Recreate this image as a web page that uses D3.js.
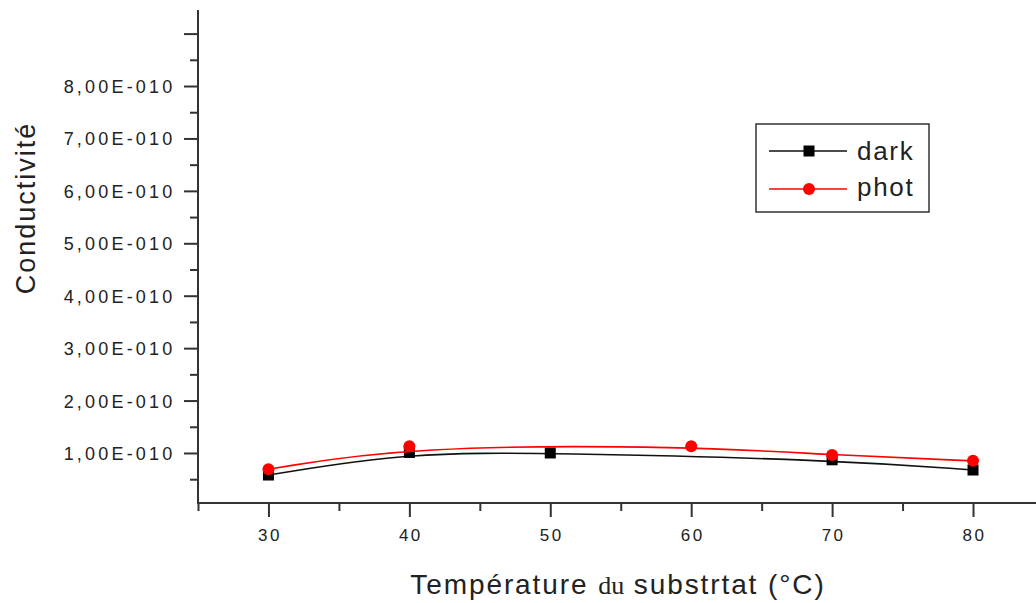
<!DOCTYPE html>
<html>
<head>
<meta charset="utf-8">
<script src="https://cdn.jsdelivr.net/npm/d3@7"></script>
<style>
  body { margin: 0; background: white; }
  svg { display: block; }
  text { font-family: "Liberation Sans", Arial, sans-serif; fill: #222; }
</style>
</head>
<body>
<svg id="chart" width="1036" height="603"></svg>
<script>
// data (conductivity, temperature in °C)
var darkTemp = [30, 40, 50, 70, 80];
var darkCond = [0.58e-10, 1.01e-10, 1.0e-10, 0.87e-10, 0.675e-10];
var photTemp = [30, 40, 60, 70, 80];
var photCond = [0.69e-10, 1.13e-10, 1.13e-10, 0.96e-10, 0.85e-10];

var xMajor = [30, 40, 50, 60, 70, 80];
var xMinor = [25, 35, 45, 55, 65, 75];
var yMajor = [1e-10, 2e-10, 3e-10, 4e-10, 5e-10, 6e-10, 7e-10, 8e-10, 9e-10];
var yMinor = [0.5e-10, 1.5e-10, 2.5e-10, 3.5e-10, 4.5e-10, 5.5e-10, 6.5e-10, 7.5e-10, 8.5e-10];
var yTickLabels = ["1,00E-010", "2,00E-010", "3,00E-010", "4,00E-010", "5,00E-010",
                   "6,00E-010", "7,00E-010", "8,00E-010", ""];

var svg = d3.select("#chart");

var x0 = 198, x1 = 1036, yTop = 10, yBot = 503;

var xS = d3.scaleLinear()
    .domain([25, 84.47])
    .range([x0, x1]);

var yS = d3.scaleLinear()
    .domain([0.046e-10, 9.45e-10])
    .range([yBot, yTop]);

// axes
var yAxis = svg.append("g")
    .attr("transform", "translate(" + x0 + ",0)")
    .call(d3.axisLeft(yS)
        .tickValues(yMajor)
        .tickSize(14)
        .tickPadding(8.5)
        .tickFormat((d, i) => yTickLabels[i]));

svg.append("g")
    .attr("transform", "translate(" + x0 + ",0)")
    .call(d3.axisLeft(yS).tickValues(yMinor).tickSize(8).tickFormat(""));

var xAxis = svg.append("g")
    .attr("transform", "translate(0," + yBot + ")")
    .call(d3.axisBottom(xS)
        .tickValues(xMajor)
        .tickSize(14)
        .tickPadding(12));

svg.append("g")
    .attr("transform", "translate(0," + yBot + ")")
    .call(d3.axisBottom(xS).tickValues(xMinor).tickSize(8).tickFormat(""));

svg.selectAll(".domain").remove();
svg.selectAll(".tick line").attr("stroke", "#333").attr("stroke-width", 2);

svg.append("line")
    .attr("x1", x0).attr("x2", x0).attr("y1", yTop).attr("y2", yBot + 1)
    .attr("stroke", "#333").attr("stroke-width", 2);
svg.append("line")
    .attr("x1", x0 - 1).attr("x2", x1).attr("y1", yBot).attr("y2", yBot)
    .attr("stroke", "#333").attr("stroke-width", 2);

yAxis.selectAll("text")
    .style("font-size", "18px")
    .style("letter-spacing", "3.2px")
    .style("font-family", "Liberation Sans, Arial, sans-serif")
    .attr("dy", "0.36em")
    .attr("fill", "#222");
xAxis.selectAll("text")
    .style("font-size", "17px")
    .style("letter-spacing", "2.5px")
    .style("font-family", "Liberation Sans, Arial, sans-serif")
    .attr("dx", "1px")
    .attr("fill", "#222");

// axis titles
var xt = svg.append("text")
    .attr("x", 618)
    .attr("y", 594)
    .attr("text-anchor", "middle")
    .style("font-size", "28px")
    .style("letter-spacing", "1.9px");
xt.append("tspan").text("Température  ");
xt.append("tspan").style("font-family", "Liberation Serif, serif").style("font-size", "26px").style("letter-spacing", "0px").text("du");
xt.append("tspan").text(" substrtat (°C)");

svg.append("text")
    .attr("transform", "translate(35,208) rotate(-90)")
    .attr("text-anchor", "middle")
    .style("font-size", "27px")
    .style("letter-spacing", "2px")
    .text("Conductivité");

// curves
var line = d3.line()
    .x(d => xS(d[0]))
    .y(d => yS(d[1]))
    .curve(d3.curveBasis);

var darkPts = darkTemp.map((t, i) => [t, darkCond[i]]);
var photPts = photTemp.map((t, i) => [t, photCond[i]]);

svg.append("path")
    .datum(darkPts)
    .attr("d", line)
    .attr("fill", "none")
    .attr("stroke", "#111")
    .attr("stroke-width", 1.6);

svg.selectAll("rect.dark")
    .data(darkPts)
    .enter()
    .append("rect")
    .attr("class", "dark")
    .attr("x", d => xS(d[0]) - 5.5)
    .attr("y", d => yS(d[1]) - 5.5)
    .attr("width", 11)
    .attr("height", 11)
    .attr("fill", "#000");

svg.append("path")
    .datum(photPts)
    .attr("d", line)
    .attr("fill", "none")
    .attr("stroke", "#ff0000")
    .attr("stroke-width", 1.6);

svg.selectAll("circle.phot")
    .data(photPts)
    .enter()
    .append("circle")
    .attr("class", "phot")
    .attr("cx", d => xS(d[0]))
    .attr("cy", d => yS(d[1]))
    .attr("r", 6)
    .attr("fill", "#ff0000");

// legend
var lg = svg.append("g");
lg.append("rect")
    .attr("x", 756).attr("y", 124)
    .attr("width", 173).attr("height", 88)
    .attr("fill", "white")
    .attr("stroke", "#333")
    .attr("stroke-width", 1.5);

lg.append("line")
    .attr("x1", 769).attr("x2", 847).attr("y1", 151).attr("y2", 151)
    .attr("stroke", "#111").attr("stroke-width", 1.6);
lg.append("rect")
    .attr("x", 803.5).attr("y", 145.5).attr("width", 11).attr("height", 11)
    .attr("fill", "#000");
lg.append("text")
    .attr("x", 857).attr("y", 159.5)
    .style("font-size", "26px")
    .style("letter-spacing", "1.7px")
    .text("dark");

lg.append("line")
    .attr("x1", 769).attr("x2", 847).attr("y1", 189).attr("y2", 189)
    .attr("stroke", "#ff0000").attr("stroke-width", 1.6);
lg.append("circle")
    .attr("cx", 809).attr("cy", 189).attr("r", 6)
    .attr("fill", "#ff0000");
lg.append("text")
    .attr("x", 857).attr("y", 196)
    .style("font-size", "26px")
    .style("letter-spacing", "1.7px")
    .text("phot");
</script>
</body>
</html>
